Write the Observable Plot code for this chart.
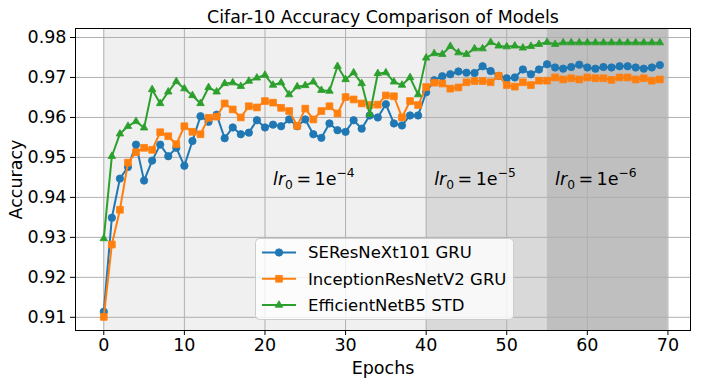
<!DOCTYPE html>
<html><head><meta charset="utf-8">
<script src="https://cdn.jsdelivr.net/npm/d3@7"></script>
<script src="https://cdn.jsdelivr.net/npm/@observablehq/plot@0.6"></script>
<style>body{margin:0;background:#fff}svg{display:block}</style>
</head><body><div id="chart"></div>
<script>
const titleText = "Cifar-10 Accuracy Comparison of Models";
const xLabel = "Epochs";
const yLabel = "Accuracy";
const xTicks = [0, 10, 20, 30, 40, 50, 60, 70];
const yTicks = [0.91, 0.92, 0.93, 0.94, 0.95, 0.96, 0.97, 0.98];

const seriesNames = ["SEResNeXt101 GRU", "InceptionResNetV2 GRU", "EfficientNetB5 STD"];
const seriesColors = ["#1f77b4", "#ff7f0e", "#2ca02c"];
const seriesSymbols = ["circle", "square", "triangle"];
const seriesR = [3.7, 3.8, 2.8];

const seresnext = [0.9114,0.9349,0.9447,0.9476,0.9532,0.9442,0.9492,0.9532,0.9503,0.9524,
0.9479,0.9541,0.9603,0.9589,0.9607,0.9548,0.9575,0.9558,0.9562,0.9593,
0.9575,0.9582,0.9578,0.9595,0.9578,0.9595,0.9558,0.9549,0.9585,0.9568,
0.9564,0.9593,0.9572,0.9605,0.9600,0.9633,0.9585,0.9580,0.9605,0.9605,
0.9663,0.9693,0.9703,0.9708,0.9715,0.9712,0.9711,0.9728,0.9716,0.9704,
0.9698,0.9700,0.9720,0.9708,0.9720,0.9733,0.9725,0.9722,0.9726,0.9732,
0.9725,0.9722,0.9726,0.9725,0.9728,0.9728,0.9725,0.9722,0.9725,0.9731];

const inception = [0.9101,0.9282,0.9369,0.9487,0.9513,0.9524,0.9519,0.9563,0.9553,0.9533,
0.9578,0.9564,0.9558,0.9599,0.9602,0.9635,0.9620,0.9600,0.9628,0.9625,
0.9641,0.9637,0.9624,0.9616,0.9579,0.9622,0.9595,0.9616,0.9628,0.9610,
0.9651,0.9645,0.9635,0.9631,0.9632,0.9655,0.9653,0.9600,0.9641,0.9631,
0.9676,0.9687,0.9685,0.9672,0.9675,0.9688,0.9691,0.9691,0.9688,0.9704,
0.9681,0.9677,0.9688,0.9681,0.9692,0.9692,0.9700,0.9695,0.9698,0.9695,
0.9700,0.9698,0.9698,0.9694,0.9700,0.9700,0.9695,0.9698,0.9692,0.9695];

const efficientnet = [0.9297,0.9503,0.9559,0.9578,0.9590,0.9574,0.9670,0.9635,0.9664,0.9690,
0.9672,0.9655,0.9635,0.9675,0.9664,0.9685,0.9687,0.9678,0.9691,0.9699,
0.9706,0.9681,0.9687,0.9657,0.9677,0.9680,0.9689,0.9668,0.9666,0.9728,
0.9695,0.9712,0.9685,0.9608,0.9710,0.9712,0.9689,0.9681,0.9700,0.9657,
0.9749,0.9760,0.9758,0.9778,0.9762,0.9758,0.9772,0.9772,0.9788,0.9779,
0.9777,0.9779,0.9774,0.9778,0.9783,0.9788,0.9783,0.9787,0.9787,0.9787,
0.9787,0.9787,0.9787,0.9787,0.9787,0.9787,0.9787,0.9787,0.9787,0.9787];

const spanStart = [0, 40, 55];
const spanEnd = [40, 55, 70];
const spanFill = ["#f0f0f0", "#d9d9d9", "#bfbfbf"];

const lrX = [21, 41, 56];
const lrY = [0.943, 0.943, 0.943];
const lrExp = ["\u22124", "\u22125", "\u22126"];

const seriesValues = [seresnext, inception, efficientnet];
const spans = spanStart.map((s, i) => ({x1: s, x2: spanEnd[i], fill: spanFill[i]}));
const lrRows = lrX.map((x, i) => ({x, y: lrY[i], e: lrExp[i]}));

const seriesMarks = [];
seriesValues.forEach((vals, k) => {
  const rows = vals.map((v, i) => ({epoch: i, acc: v}));
  seriesMarks.push(Plot.line(rows, {x: "epoch", y: "acc", stroke: seriesColors[k], strokeWidth: 2}));
  seriesMarks.push(Plot.dot(rows, {x: "epoch", y: "acc", fill: seriesColors[k], stroke: seriesColors[k], strokeWidth: 0.8, symbol: seriesSymbols[k], r: seriesR[k]}));
});

const chart = Plot.plot({
  width: 703,
  height: 386,
  marginLeft: 75,
  marginRight: 13,
  marginTop: 28,
  marginBottom: 56,
  style: {fontFamily: "DejaVu Sans", fontSize: "17px", background: "white", color: "black"},
  x: {domain: [-3.51, 72.8]},
  y: {domain: [0.9067, 0.98225]},
  color: {type: "identity"},
  marks: [
    Plot.rect(spans, {x1: "x1", x2: "x2", fill: "fill"}),
    Plot.gridX(xTicks, {stroke: "#b0b0b0", strokeOpacity: 1, strokeWidth: 1}),
    Plot.gridY(yTicks, {stroke: "#b0b0b0", strokeOpacity: 1, strokeWidth: 1}),
    ...seriesMarks,
    Plot.text(lrRows, {x: "x", y: "y", text: d => "lr0 = 1e" + d.e, textAnchor: "start", lineAnchor: "bottom", fontSize: 17.5}),
    Plot.frame({stroke: "black", strokeWidth: 1}),
    Plot.axisX(xTicks, {tickSize: 5, tickPadding: 3, fontSize: 17.5, label: xLabel, labelAnchor: "center", labelArrow: "none", labelOffset: 43}),
    Plot.axisY(yTicks, {tickSize: 5, tickPadding: 4, fontSize: 17.5, tickFormat: d => d.toFixed(2), label: yLabel, labelAnchor: "center", labelArrow: "none", labelOffset: 66}),
    Plot.text([titleText], {frameAnchor: "top", text: d => d, lineAnchor: "bottom", dy: -6, fontSize: 17.4})
  ]
});
document.getElementById("chart").appendChild(chart);

const svg = d3.select(chart);
svg.selectAll("text").filter(function() { return this.textContent.startsWith("lr0 = 1e"); })
  .each(function() {
    const t = d3.select(this);
    const e = this.textContent.slice(8);
    t.text(null);
    t.append("tspan").attr("font-style", "italic").text("lr");
    t.append("tspan").attr("dy", 4).attr("font-size", "70%").text("0");
    t.append("tspan").attr("dy", -4).text("\u2009=\u20091e");
    t.append("tspan").attr("dy", -8).attr("font-size", "70%").text(e);
  });

// legend
const lg = svg.append("g").attr("font-family", "DejaVu Sans").attr("font-size", 16.5).attr("text-anchor", "start");
lg.append("rect").attr("x", 255.5).attr("y", 238.5).attr("width", 258).attr("height", 81).attr("rx", 4)
  .attr("fill", "white").attr("fill-opacity", 0.8).attr("stroke", "#cccccc");
const symMap = {circle: d3.symbolCircle, square: d3.symbolSquare, triangle: d3.symbolTriangle};
seriesNames.forEach((name, k) => {
  const cy = 252.5 + 26.3 * k;
  lg.append("line").attr("x1", 262).attr("x2", 296).attr("y1", cy).attr("y2", cy)
    .attr("stroke", seriesColors[k]).attr("stroke-width", 2);
  lg.append("path").attr("transform", `translate(279,${cy})`)
    .attr("d", d3.symbol(symMap[seriesSymbols[k]], Math.PI * seriesR[k] * seriesR[k])())
    .attr("fill", seriesColors[k]).attr("stroke", seriesColors[k]).attr("stroke-width", 0.8);
  lg.append("text").attr("x", 308).attr("y", cy).attr("dy", "0.35em").attr("text-anchor", "start").attr("fill", "black").text(name);
});
</script></body></html>
